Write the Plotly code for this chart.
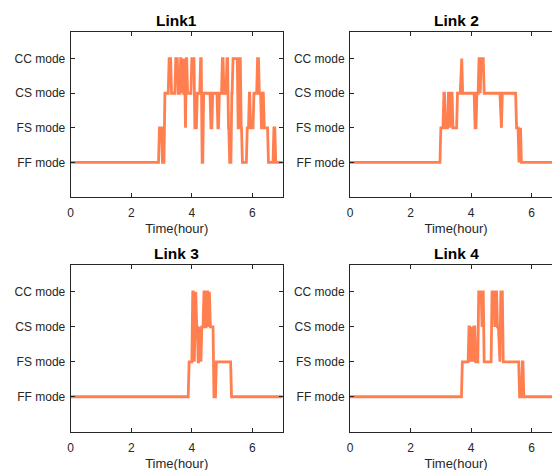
import plotly.graph_objects as go

# Mode levels: 1=FF, 2=FS, 3=CS, 4=CC
mode_vals = [1, 2, 3, 4]
mode_labels = ["FF mode", "FS mode", "CS mode", "CC mode"]
x_ticks = [0, 2, 4, 6]
titles = ["Link1", "Link 2", "Link 3", "Link 4"]
t_end = 7.0

# change times (hour) and the mode entered at that time
link1_t = [0, 2.90, 3.00, 3.08, 3.22, 3.30, 3.44, 3.52, 3.60, 3.64, 3.67, 3.71, 3.73, 3.76, 3.79, 3.83,
           3.97, 4.07, 4.15, 4.26, 4.31, 4.36, 4.60, 4.66, 4.83, 4.88, 4.98, 5.03, 5.13, 5.18, 5.22, 5.29,
           5.33, 5.50, 5.55, 5.60, 5.64, 5.80, 5.87, 5.91, 6.02, 6.14, 6.20, 6.27, 6.32, 6.36, 6.50, 6.68, 6.74]
link1_m = [1, 2, 1, 3, 4, 3, 4, 3, 4, 3, 4, 3, 4, 2, 4, 3,
           4, 2, 3, 4, 1, 3, 2, 3, 2, 3, 4, 3, 4, 2, 1, 3,
           4, 2, 4, 2, 1, 2, 3, 2, 3, 4, 3, 2, 3, 2, 1, 2, 1]

link2_t = [0, 2.97, 3.07, 3.12, 3.22, 3.27, 3.30, 3.37, 3.52, 3.64, 3.69, 4.10, 4.16, 4.23, 4.27, 4.30,
           4.40, 4.95, 5.00, 5.47, 5.55, 5.58, 5.63]
link2_m = [1, 2, 3, 2, 3, 2, 3, 2, 3, 4, 3, 2, 3, 4, 3, 4,
           3, 2, 3, 2, 1, 2, 1]

link3_t = [0, 3.88, 4.00, 4.05, 4.08, 4.13, 4.18, 4.22, 4.25, 4.30, 4.37, 4.43, 4.47, 4.52, 4.55, 4.58,
           4.70, 4.78, 5.28]
link3_m = [1, 2, 4, 2, 4, 3, 2, 3, 2, 3, 4, 3, 4, 3, 4, 3,
           1, 2, 1]

link4_t = [0, 3.68, 3.90, 3.95, 3.98, 4.03, 4.06, 4.12, 4.22, 4.33, 4.36, 4.40, 4.66, 4.75, 4.78, 4.84,
           4.90, 4.95, 5.03, 5.57, 5.66, 5.71]
link4_m = [1, 2, 3, 2, 3, 2, 3, 2, 4, 3, 4, 2, 4, 3, 4, 3,
           2, 4, 2, 1, 2, 1]

links = [(link1_t, link1_m), (link2_t, link2_m), (link3_t, link3_m), (link4_t, link4_m)]

RAMP = 0.03
OFF = 8  # page body margin
W, H = 560, 470


def build(ts, ms):
    xs, ys = [ts[0]], [ms[0]]
    for i in range(1, len(ts)):
        xs += [ts[i], ts[i] + RAMP]
        ys += [ms[i - 1], ms[i]]
    xs.append(t_end)
    ys.append(ms[-1])
    return xs, ys


# page pixel geometry -> paper domains
col_px = [(70.7, 282.7), (350.0, 562.0)]
row_px = [(32.0, 197.0), (265.0, 431.7)]

fig = go.Figure()
font = "Liberation Sans, Arial, Helvetica, sans-serif"
axcol = "#262626"

for k, (ts, ms) in enumerate(links):
    r, c = divmod(k, 2)
    xs, ys = build(ts, ms)
    sfx = "" if k == 0 else str(k + 1)
    fig.add_trace(go.Scatter(x=xs, y=ys, mode="lines",
                             line=dict(color="#FF7F50", width=2.8),
                             xaxis="x" + sfx, yaxis="y" + sfx, showlegend=False,
                             hoverinfo="skip"))
    xd = [(col_px[c][0] - OFF) / W, (col_px[c][1] - OFF) / W]
    yd = [1 - (row_px[r][1] - OFF) / H, 1 - (row_px[r][0] - OFF) / H]
    fig.layout["xaxis" + sfx] = dict(
        domain=xd, range=[0, 7], tickvals=x_ticks, ticks="inside", ticklen=4,
        tickcolor=axcol, showline=True, linecolor=axcol, linewidth=1, mirror="ticks",
        showgrid=False, zeroline=False, anchor="y" + sfx, ticklabelstandoff=5,
        tickfont=dict(family=font, size=12, color=axcol),
        title=dict(text="Time(hour)", font=dict(family=font, size=13, color=axcol), standoff=4),
    )
    fig.layout["yaxis" + sfx] = dict(
        domain=yd, range=[0, 4.77], tickvals=mode_vals, ticktext=mode_labels, ticks="inside",
        ticklen=4, tickcolor=axcol, showline=True, linecolor=axcol, linewidth=1,
        mirror="ticks", ticklabelstandoff=2,
        showgrid=False, zeroline=False, anchor="x" + sfx,
        tickfont=dict(family=font, size=12, color=axcol),
    )
    fig.add_annotation(text="<b>" + titles[k] + "</b>", xref="paper", yref="paper",
                       x=(col_px[c][0] - OFF + 106) / W,
                       y=1 - (row_px[r][0] - 12 - OFF) / H, xanchor="center", yanchor="middle",
                       showarrow=False, font=dict(family=font, size=15.5, color="#000000"))

fig.update_layout(width=W, height=H, margin=dict(l=0, r=0, t=0, b=0, autoexpand=False),
                  plot_bgcolor="white", paper_bgcolor="white")
fig.write_html("out.html",
               post_script="document.documentElement.style.overflow='hidden';"
                           "document.body.style.overflow='hidden';")
